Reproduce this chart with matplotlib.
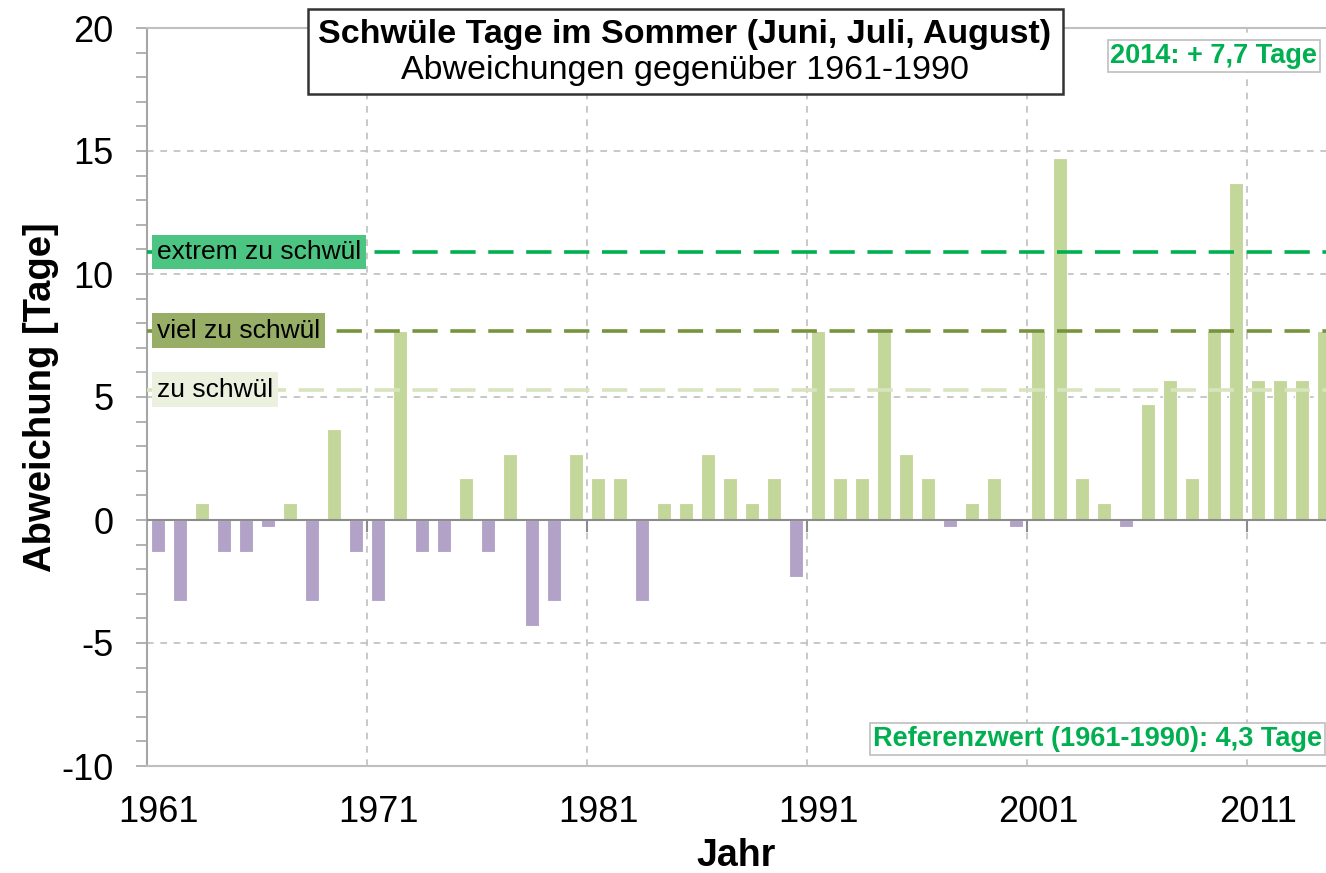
import numpy as np
import matplotlib
matplotlib.use("Agg")
import matplotlib.pyplot as plt
from matplotlib.ticker import MultipleLocator, FixedLocator
from matplotlib.patches import Rectangle

plt.rcParams['font.family'] = ['Liberation Sans', 'DejaVu Sans']
plt.rcParams['axes.unicode_minus'] = False

# Abweichung der schwülen Tage (JJA) gegenüber 1961-1990
years = np.arange(1961, 2015)
deviation = [-1.3, -3.3, 0.7, -1.3, -1.3, -0.3, 0.7, -3.3, 3.7, -1.3,
             -3.3, 7.7, -1.3, -1.3, 1.7, -1.3, 2.7, -4.3, -3.3, 2.7,
             1.7, 1.7, -3.3, 0.7, 0.7, 2.7, 1.7, 0.7, 1.7, -2.3,
             7.7, 1.7, 1.7, 7.7, 2.7, 1.7, -0.3, 0.7, 1.7, -0.3,
             7.7, 14.7, 1.7, 0.7, -0.3, 4.7, 5.7, 1.7, 7.7, 13.7,
             5.7, 5.7, 5.7, 7.7]
tick_years = [1961, 1971, 1981, 1991, 2001, 2011]

# Schwellenwerte
thresh_names = ['extrem zu schwül', 'viel zu schwül', 'zu schwül']
thresh_values = [10.9, 7.7, 5.3]
thresh_line_colors = ['#00B050', '#77933C', '#D7E4BD']
thresh_box_colors = ['#4DC582', '#98AE66', '#EBF1DE']

fig = plt.figure(figsize=(13.26, 8.73), dpi=100)
ax = fig.add_axes([147 / 1326, 1 - 766 / 873, 1 - 147 / 1326, (766 - 28) / 873])

dev = np.array(deviation)
colors = np.where(dev >= 0, '#C4D79B', '#B3A2C7')
ax.bar(years + 0.5, dev, width=0.66, color=colors, edgecolor='white',
       linewidth=0.8, zorder=3)

ax.set_xlim(1961, 2014.59)
ax.set_ylim(-10, 20)

# x: labels under the bars, grid at the year boundaries
ax.xaxis.set_major_locator(FixedLocator([y + 0.5 for y in tick_years]))
ax.set_xticklabels([str(y) for y in tick_years])
ax.xaxis.set_minor_locator(FixedLocator(tick_years[1:]))
ax.tick_params(axis='x', which='both', length=0, labelsize=26, pad=21)
ax.grid(axis='x', which='minor', color='#BFBFBF', linestyle=(0, (4, 4)),
        linewidth=1.2, zorder=1)
ax.grid(axis='x', which='major', visible=False)

# y axis
ax.yaxis.set_major_locator(MultipleLocator(5))
ax.yaxis.set_minor_locator(MultipleLocator(1))
ax.tick_params(axis='y', which='both', direction='out', length=8,
               width=1.2, color='#A6A6A6')
ax.tick_params(axis='y', which='major', labelsize=26, pad=16)
ax.grid(axis='y', which='major', color='#BFBFBF', linestyle=(0, (4, 4)),
        linewidth=1.2, zorder=1)

# Nulllinie mit kleinen Strichen
ax.axhline(0, color='#8C8C8C', linewidth=1.5, zorder=4)
ax.vlines(tick_years[1:], -0.5, 0, color='#8C8C8C', linewidth=1.5, zorder=4)

for side in ['left', 'bottom', 'top']:
    ax.spines[side].set_color('#BFBFBF')
    ax.spines[side].set_linewidth(1.5)
ax.spines['left'].set_color('#A6A6A6')
ax.spines['right'].set_visible(False)

# Schwellenlinien und Beschriftungen
for name, val, lc, bc in zip(thresh_names, thresh_values,
                             thresh_line_colors, thresh_box_colors):
    ax.axhline(val, color=lc, linewidth=2.6, linestyle=(0, (7, 3.5)), zorder=5)
    ax.text(1961.45, val, name, fontsize=19, ha='left', va='center',
            color='black', zorder=6,
            bbox=dict(boxstyle='square,pad=0.2', facecolor=bc,
                      edgecolor='none'))

ax.set_xlabel('Jahr', fontsize=27, fontweight='bold', labelpad=6)
ax.set_ylabel('Abweichung [Tage]', fontsize=27.5, fontweight='bold', labelpad=2)

# Titelkasten
fig.patches.append(Rectangle((308 / 1326, 1 - 94 / 873), (1063 - 308) / 1326,
                             85 / 873, transform=fig.transFigure,
                             facecolor='white', edgecolor='#333333',
                             linewidth=1.8, zorder=10))
fig.text(685 / 1326, 1 - 34 / 873, 'Schwüle Tage im Sommer (Juni, Juli, August)',
         fontsize=24.5, fontweight='bold', ha='center', va='center', zorder=11)
fig.text(685 / 1326, 1 - 70 / 873, 'Abweichungen gegenüber 1961-1990',
         fontsize=24.5, ha='center', va='center', zorder=11)

# Hinweise
ax.text(0.9925, 0.962, '2014: + 7,7 Tage', transform=ax.transAxes,
        fontsize=19.5, fontweight='bold', color='#00B050', ha='right',
        va='center', zorder=7,
        bbox=dict(boxstyle='square,pad=0.1', facecolor='white',
                  edgecolor='#BFBFBF', linewidth=1.2))
ax.text(0.9965, 0.0366, 'Referenzwert (1961-1990): 4,3 Tage',
        transform=ax.transAxes, fontsize=19.5, fontweight='bold',
        color='#00B050', ha='right', va='center', zorder=7,
        bbox=dict(boxstyle='square,pad=0.1', facecolor='white',
                  edgecolor='#BFBFBF', linewidth=1.2))

fig.savefig('out.png', dpi=100)
